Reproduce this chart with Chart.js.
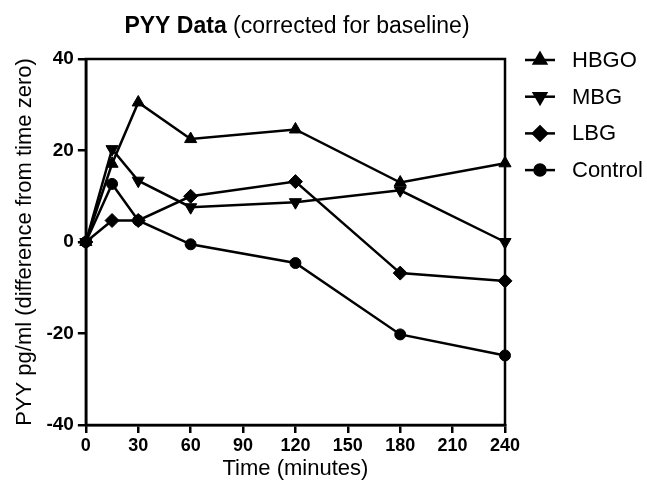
<!DOCTYPE html>
<html>
<head>
<meta charset="utf-8">
<script src="https://cdn.jsdelivr.net/npm/chart.js@4"></script>
<style>
  body { margin: 0; background: #fff; }
  #wrap { width: 647px; height: 482px; }
</style>
</head>
<body>
<div id="wrap"><canvas id="pyyChart" width="647" height="482"></canvas></div>
<script>
const times = [0, 15, 30, 60, 120, 180, 240];
const hbgo = [0, 17.1, 30.5, 22.5, 24.6, 13.0, 17.2];
const mbg = [0, 20.3, 13.4, 7.6, 8.7, 11.3, 0];
const lbg = [0, 4.7, 4.7, 10.0, 13.2, -6.8, -8.5];
const control = [0, 12.7, 4.7, -0.5, -4.6, -20.2, -24.8];
const xTicks = [0, 30, 60, 90, 120, 150, 180, 210, 240];
const seriesNames = ['HBGO', 'MBG', 'LBG', 'Control'];

const FONT = '"Liberation Sans", Arial, Helvetica, sans-serif';

function toPoints(vals) {
    return times.map((t, i) => ({ x: t, y: vals[i] }));
}

function makeSet(label, vals, style, rot) {
    return {
        label: label,
        data: toPoints(vals),
        borderColor: '#000',
        backgroundColor: '#000',
        borderWidth: 2.5,
        pointStyle: style,
        pointRotation: rot,
        pointRadius: style === 'circle' ? 5.5 : 7,
        pointBorderWidth: 1,
        clip: false,
        tension: 0
    };
}

// title with bold + normal parts, box frame, custom legend
const extras = {
    id: 'extras',
    afterDraw(chart) {
        const ctx = chart.ctx;
        const a = chart.chartArea;
        ctx.save();
        // frame
        ctx.strokeStyle = '#000';
        ctx.lineWidth = 2.5;
        ctx.strokeRect(a.left, a.top, a.right - a.left, a.bottom - a.top);

        // title
        ctx.fillStyle = '#000';
        ctx.textBaseline = 'alphabetic';
        const boldPart = 'PYY Data';
        const normPart = ' (corrected for baseline)';
        ctx.font = 'bold 23px ' + FONT;
        const w1 = ctx.measureText(boldPart).width;
        ctx.font = '23px ' + FONT;
        const w2 = ctx.measureText(normPart).width;
        let tx = 297 - (w1 + w2) / 2;
        ctx.font = 'bold 23px ' + FONT;
        ctx.fillText(boldPart, tx, 33);
        ctx.font = '23px ' + FONT;
        ctx.fillText(normPart, tx + w1, 33);

        // legend
        chart.data.datasets.forEach((ds, i) => {
            const y = 60 + i * 36.7;
            ctx.strokeStyle = '#000';
            ctx.lineWidth = 2.5;
            ctx.beginPath();
            ctx.moveTo(525, y);
            ctx.lineTo(555, y);
            ctx.stroke();
            ctx.fillStyle = '#000';
            Chart.helpers.drawPoint(ctx, {
                pointStyle: ds.pointStyle,
                rotation: ds.pointRotation,
                radius: ds.pointRadius,
                borderWidth: 1
            }, 540, y);
            ctx.fillStyle = '#000';
            ctx.font = '22px ' + FONT;
            ctx.textBaseline = 'middle';
            ctx.fillText(ds.label, 572, y + 1);
        });
        ctx.restore();
    }
};

const ctx = document.getElementById('pyyChart').getContext('2d');
const pyyChart = new Chart(ctx, {
    type: 'line',
    data: {
        datasets: [
            makeSet(seriesNames[0], hbgo, 'triangle', 0),
            makeSet(seriesNames[1], mbg, 'triangle', 180),
            makeSet(seriesNames[2], lbg, 'rectRot', 0),
            makeSet(seriesNames[3], control, 'circle', 0)
        ]
    },
    options: {
        responsive: false,
        animation: false,
        layout: { padding: { top: 59, right: 142, left: 12, bottom: 0 } },
        plugins: {
            legend: { display: false },
            title: { display: false },
            tooltip: { enabled: false }
        },
        scales: {
            x: {
                type: 'linear',
                min: 0,
                max: 240,
                afterBuildTicks: axis => { axis.ticks = xTicks.map(v => ({ value: v })); },
                grid: { drawOnChartArea: false, color: '#000', lineWidth: 2.5, tickLength: 8 },
                border: { color: '#000', width: 2.5 },
                ticks: {
                    color: '#000',
                    font: { family: FONT, size: 18, weight: 'bold' },
                    padding: 2,
                    maxRotation: 0,
                    autoSkip: false
                },
                title: {
                    display: true,
                    text: 'Time (minutes)',
                    color: '#000',
                    font: { family: FONT, size: 22 },
                    padding: { top: -3, bottom: 0 }
                }
            },
            y: {
                min: -40,
                max: 40,
                ticks: {
                    stepSize: 20,
                    color: '#000',
                    font: { family: FONT, size: 19, weight: 'bold' },
                    padding: 4
                },
                grid: { drawOnChartArea: false, color: '#000', lineWidth: 2.5, tickLength: 8 },
                border: { color: '#000', width: 2.5 },
                title: {
                    display: true,
                    text: 'PYY pg/ml (difference from time zero)',
                    color: '#000',
                    font: { family: FONT, size: 22 },
                    padding: { top: 0, bottom: 4 }
                }
            }
        }
    },
    plugins: [extras]
});
</script>
</body>
</html>
